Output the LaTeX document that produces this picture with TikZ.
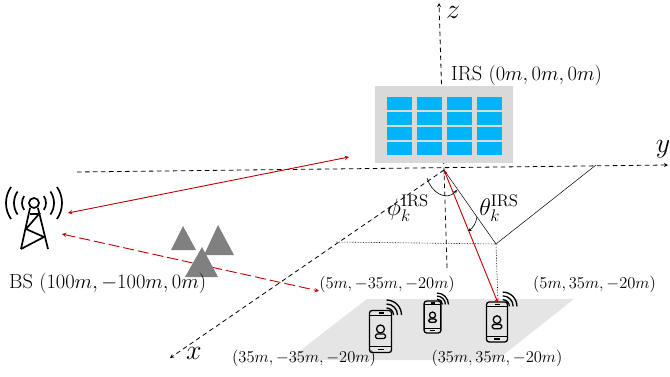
\documentclass[tikz,border=0pt]{standalone}
\usepackage{fix-cm}
\usetikzlibrary{calc}
\definecolor{rayred}{RGB}{192,0,0}
\definecolor{cellblue}{RGB}{0,180,250}
\tikzset{
	axisline/.style={line width=0.8pt, dash pattern=on 4.5pt off 3.5pt, -stealth},
	rayline/.style={line width=0.9pt, color=rayred, stealth-stealth},
	raydash/.style={rayline, dash pattern=on 11pt off 4pt},
	dotline/.style={line width=0.6pt, densely dotted},
	axislabel/.style={inner sep=0pt, font=\fontsize{28}{32}\selectfont},
	anglelabel/.style={inner sep=0pt, font=\fontsize{24}{28}\selectfont},
	biglabel/.style={inner sep=0pt, font=\fontsize{20.5}{24}\selectfont},
	poslabel/.style={inner sep=0pt, font=\fontsize{16.5}{19}\selectfont},
}
\def\smartphone(#1,#2)(#3){
	\begin{scope}[shift={(#1,#2)}, scale=#3, line width=1.3pt]
		\draw[rounded corners=2.5pt] (-11, -21) rectangle (11, 21);
		\draw (-11, -16) -- (11, -16);
		\draw (-11, 15) -- (11, 15);
		\draw (-2, -18.5) -- (3, -18.5);
		\draw (-3, 18) -- (3, 18);
		\draw (0, -2.5) circle (4);
		\draw[rounded corners=1.5pt] (-5, 7) rectangle (5, 2.5);
		\foreach \r in {7, 11, 15}
			\draw ([shift={(-90:\r)}]6, -16.5) arc (-90:0:\r);
	\end{scope}
}

\begin{document}
\begin{tikzpicture}[x=1pt, y=-1pt]
	\useasboundingbox (0, 0) rectangle (670, 377);

	% ground
	\fill[black!10] (367, 299) -- (574, 299) -- (497, 360) -- (288, 360) -- cycle;

	% axes
	\coordinate (origin) at (444, 170);
	\coordinate (foot) at (496, 244);
	\coordinate (userk) at (498, 303);
	\draw[axisline] (77, 172) -- (668, 165);
	\draw[axisline] (447, 268) -- (439, 3);
	\draw[axisline] (origin) -- (170, 358);

	% projections
	\draw[line width=0.5pt] (origin) -- (foot);
	\draw[dotline] (336, 242) -- (foot);
	\draw[line width=0.5pt] (596, 165) -- (foot);
	\draw[dotline] (foot) -- (userk);

	% surface
	\fill[black!15] (375, 86) rectangle (513, 163);
	\foreach \x in {387, 417, 447, 477}
		\foreach \y in {97, 112, 127, 142}
			\fill[cellblue] (\x, \y) rectangle (\x+24.5, \y+13);

	% base station
	\begin{scope}[line width=1.7pt]
		\draw (34, 203) circle (5);
		\foreach \r in {12, 20, 28} {
			\draw ([shift={(-35:\r)}]34, 203) arc (-35:35:\r);
			\draw ([shift={(145:\r)}]34, 203) arc (145:215:\r);
		}
		\draw (30, 208) -- (21, 249);
		\draw (38, 208) -- (48, 249);
		\draw (30, 214) -- (39, 214) -- (26, 229) -- (44, 237) -- (21, 249);
	\end{scope}

	% users
	\smartphone(380.5, 331.5)(1)
	\smartphone(432.5, 317)(0.76)
	\smartphone(497, 322)(0.95)

	% rays
	\coordinate (bsup) at (68, 213);
	\coordinate (bsdown) at (62, 234);
	\coordinate (irsleft) at (349, 157);
	\coordinate (userleft) at (319, 291);
	\draw[rayline] (bsup) -- (irsleft);
	\draw[raydash] (bsdown) -- (userleft);
	\draw[rayline] (origin) -- (userk);

	% obstacles
	\fill[black!50] (183, 226) -- (196, 250) -- (171, 250) -- cycle;
	\fill[black!50] (218, 225) -- (234, 255) -- (204, 255) -- cycle;
	\fill[black!50] (202, 247) -- (218, 277) -- (185, 277) -- cycle;

	% angles
	\draw[line width=0.6pt, -stealth] (427, 178) .. controls (431, 192) and (446, 202) .. (457, 190);
	\draw[line width=0.6pt, -stealth] (477, 217) .. controls (476, 223) and (473, 228) .. (468, 231);

	% labels
	\node[axislabel] (zlabel) at (453, 12) {$z$};
	\node[axislabel] (ylabel) at (663, 149) {$y$};
	\node[axislabel] (xlabel) at (194, 353) {$x$};
	\node[biglabel, anchor=west] (irslabel) at (451, 75) {IRS $(0m, 0m, 0m)$};
	\node[biglabel, anchor=west] (bslabel) at (9, 283) {BS $(100m, -100m, 0m)$};
	\node[anglelabel] (philabel) at (408, 208) {$\phi_k^{\mathrm{IRS}}$};
	\node[anglelabel] (thetalabel) at (499, 208) {$\theta_k^{\mathrm{IRS}}$};
	\node[poslabel] (posa) at (387, 284) {$(5m, -35m, -20m)$};
	\node[poslabel] (posb) at (594.5, 284) {$(5m, 35m, -20m)$};
	\node[poslabel] (posc) at (304, 358) {$(35m, -35m, -20m)$};
	\node[poslabel] (posd) at (497, 358) {$(35m, 35m, -20m)$};
\end{tikzpicture}
\end{document}
